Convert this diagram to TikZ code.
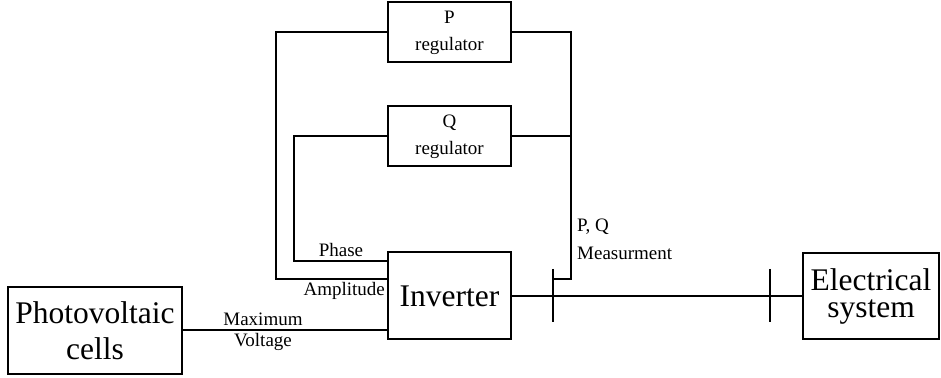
\documentclass[tikz,border=0pt]{standalone}
\usepackage{fontspec}
\setmainfont{Liberation Serif}
\usetikzlibrary{positioning}

\begin{document}
\begin{tikzpicture}[
        x=1pt, y=1pt,
        node distance=84pt,
        block/.style={rectangle, draw, line width=2pt, minimum width=123pt,
            align=center, inner sep=0pt},
        regbox/.style={block, minimum height=60pt, font=\fontsize{19}{27}\selectfont},
        bigbox/.style={block, minimum height=87pt, font=\fontsize{31.5}{36}\selectfont},
        lbl/.style={inner sep=0pt, font=\fontsize{19}{21}\selectfont},
        line/.style={draw, line width=2pt}
    ]
    \useasboundingbox (0,0) rectangle (941,377);

    \node [bigbox] (inv) at (449.5,81) {Inverter};
    \node [regbox, above=of inv] (qreg) {Q\\regulator};
    \node [regbox, above=42pt of qreg] (preg) {P\\regulator};
    \node [bigbox, minimum width=174pt] (pv) at (95,46.5) {Photovoltaic\\cells};
    \node [bigbox, minimum width=136pt, minimum height=86pt,
        font=\fontsize{31.5}{27}\selectfont] (elec) at (871,81) {Electrical\\system};

    % junction points
    \coordinate (ampL) at (276,98);
    \coordinate (phL) at (294,116);
    \coordinate (measR) at (571,98);
    \coordinate (bus1) at (553,81);
    \coordinate (bus2) at (770,81);

    \node [lbl] (phtxt) at (341,127) {Phase};
    \node [lbl, anchor=east] (amptxt) at (385,86) {Amplitude};
    \node [lbl, align=center] (vtxt) at (263,45.5) {Maximum\\Voltage};
    \node [lbl, anchor=west, align=left, font=\fontsize{19}{28}\selectfont]
        (meastxt) at (577,138) {P, Q\\Measurment};

    \path [line] (preg.west) -| (ampL) -- (ampL -| inv.west);
    \path [line] (qreg.west) -| (phL) -- (phL -| inv.west);
    \path [line] (preg.east) -| (measR) -- (measR -| bus1);
    \path [line] (qreg.east) -- (qreg.east -| measR);
    \path [line] (pv.east) -- (pv.east -| inv.west);
    \path [line] (inv.east) -- (elec.west);
    \path [line] ([yshift=27pt]bus1) -- ([yshift=-26pt]bus1);
    \path [line] ([yshift=27pt]bus2) -- ([yshift=-26pt]bus2);
\end{tikzpicture}
\end{document}
